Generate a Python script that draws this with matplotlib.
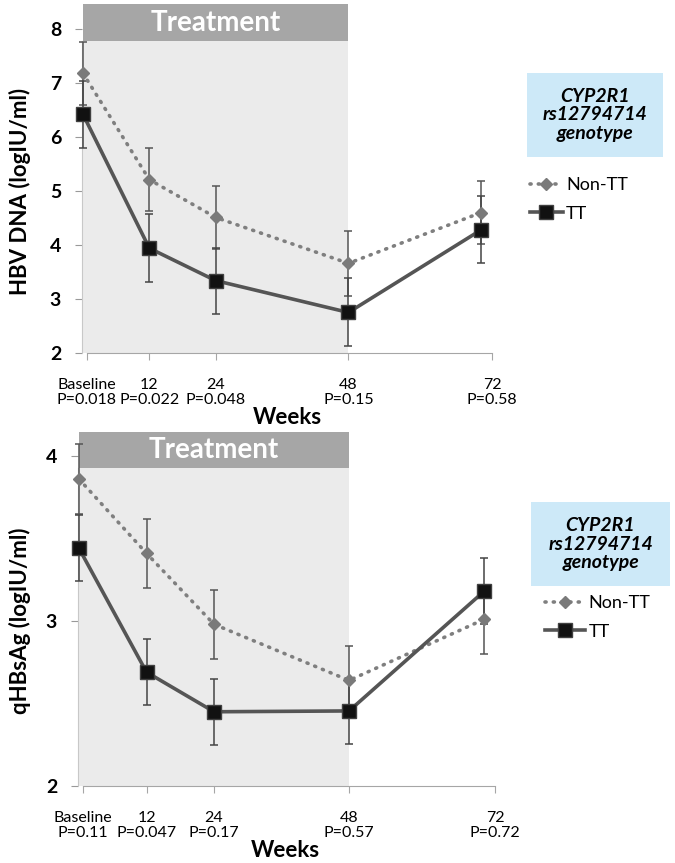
import matplotlib
matplotlib.use("Agg")
import matplotlib.pyplot as plt
from matplotlib.patches import Rectangle

plt.rcParams['font.family'] = ['Lato', 'DejaVu Sans']

# データ
weeks = [0, 12, 24, 48, 72]
week_names = ['Baseline', '12', '24', '48', '72']

dna_p = ['P=0.018', 'P=0.022', 'P=0.048', 'P=0.15', 'P=0.58']
dna_nontt = [7.18, 5.21, 4.51, 3.66, 4.60]
dna_nontt_err = [0.58, 0.59, 0.58, 0.60, 0.58]
dna_tt = [6.42, 3.94, 3.34, 2.75, 4.28]
dna_tt_err = [0.62, 0.63, 0.61, 0.63, 0.62]

hbs_p = ['P=0.11', 'P=0.047', 'P=0.17', 'P=0.57', 'P=0.72']
hbs_nontt = [3.86, 3.41, 2.98, 2.64, 3.01]
hbs_nontt_err = [0.21, 0.21, 0.21, 0.21, 0.21]
hbs_tt = [3.44, 2.69, 2.45, 2.455, 3.18]
hbs_tt_err = [0.20, 0.20, 0.20, 0.20, 0.20]

treat_end = 48
x_start = 0.7
x_end = 74


def draw_panel(ax, nontt, nontt_err, tt, tt_err, pvals, yticks, ylim, head_lo, head_hi):
	# 治療期間の背景
	ax.add_patch(Rectangle((0, ylim[0]), treat_end, head_lo - ylim[0], color='#ebebeb', zorder=0, lw=0))
	ax.add_patch(Rectangle((0, head_lo), treat_end, head_hi - head_lo, color='#a6a6a6', zorder=1, lw=0, clip_on=False))
	ax.text(treat_end / 2, (head_lo + head_hi) / 2, 'Treatment', color='white', fontsize=20,
		fontweight='bold', ha='center', va='center', zorder=2)

	# エラーバー
	ax.errorbar(weeks, nontt, yerr=nontt_err, fmt='none', ecolor='#555555', elinewidth=1.1,
		capsize=3, capthick=1.1, zorder=3, clip_on=False)
	ax.errorbar(weeks, tt, yerr=tt_err, fmt='none', ecolor='#444444', elinewidth=1.1,
		capsize=3, capthick=1.1, zorder=3, clip_on=False)

	l1, = ax.plot(weeks, nontt, color='#7f7f7f', lw=2.6, linestyle=(0, (0.3, 2.0)),
		dash_capstyle='round', marker='D', ms=6.5, mfc='#7a7a7a', mec='#7a7a7a',
		zorder=4, clip_on=False, label='Non-TT')
	l2, = ax.plot(weeks, tt, color='#555555', lw=2.6, marker='s', ms=9.5,
		mfc='#111111', mec='#404040', zorder=5, clip_on=False, label='TT')

	ax.set_xlim(-0.2, x_end)
	ax.set_ylim(ylim)

	# 軸の設定
	ax.spines['top'].set_visible(False)
	ax.spines['right'].set_visible(False)
	ax.spines['left'].set_color('#c8c8c8')
	ax.spines['bottom'].set_color('#a6a6a6')
	ax.spines['bottom'].set_bounds(x_start, x_end)
	ax.spines['left'].set_bounds(ylim[0], head_lo)

	ax.set_yticks(yticks)
	ax.set_yticklabels([str(v) for v in yticks], fontsize=14, fontweight='bold')
	ax.tick_params(axis='y', direction='out', length=5, color='#999999', pad=10)

	ax.set_xticks([x_start, 12, 24, 48, x_end])
	ax.set_xticklabels([n + '\n' + p for n, p in zip(week_names, pvals)], fontsize=11.5,
		linespacing=1.1)
	ax.tick_params(axis='x', direction='out', length=5, color='#a6a6a6', pad=13)

	return l1, l2


fig = plt.figure(figsize=(6.75, 8.63), dpi=100)

ax1 = fig.add_axes([0.1213, 0.5910, 0.6079, 0.4067])
ax2 = fig.add_axes([0.1154, 0.0892, 0.6184, 0.4130])

h1 = draw_panel(ax1, dna_nontt, dna_nontt_err, dna_tt, dna_tt_err, dna_p,
	[2, 3, 4, 5, 6, 7, 8], (2, 8.5), 7.78, 8.46)
h2 = draw_panel(ax2, hbs_nontt, hbs_nontt_err, hbs_tt, hbs_tt_err, hbs_p,
	[2, 3, 4], (2, 4.16), 3.93, 4.145)

# 軸ラベル
fig.text(20 / 675, 1 - 191 / 863, 'HBV DNA (logIU/ml)', rotation=90, fontsize=16,
	fontweight='bold', ha='center', va='center')
fig.text(20 / 675, 1 - 621 / 863, 'qHBsAg (logIU/ml)', rotation=90, fontsize=16,
	fontweight='bold', ha='center', va='center')
fig.text(287 / 675, 1 - 417 / 863, 'Weeks', fontsize=16, fontweight='bold', ha='center', va='center')
fig.text(285 / 675, 1 - 850 / 863, 'Weeks', fontsize=16, fontweight='bold', ha='center', va='center')

# 凡例の箱
for (bx, by, bw, bh) in [(527, 73, 136, 84), (531, 502, 139, 84)]:
	fig.patches.append(Rectangle((bx / 675, 1 - (by + bh) / 863), bw / 675, bh / 863,
		transform=fig.transFigure, color='#cde9f8', lw=0))
	fig.text((bx + bw / 2) / 675, 1 - (by + bh / 2) / 863, 'CYP2R1\nrs12794714\ngenotype',
		fontsize=14, fontweight='bold', style='italic', ha='center', va='center', linespacing=1.1)

# 凡例
ax1.legend(handles=h1, loc='upper left', bbox_to_anchor=(530 / 675, 1 - 177 / 863),
	bbox_transform=fig.transFigure, frameon=False, fontsize=13, handlelength=1.8,
	handletextpad=0.2, labelspacing=0.7, borderpad=0, borderaxespad=0)
ax2.legend(handles=h2, loc='upper left', bbox_to_anchor=(545 / 675, 1 - 595 / 863),
	bbox_transform=fig.transFigure, frameon=False, fontsize=13, handlelength=2.2,
	handletextpad=0.2, labelspacing=0.7, borderpad=0, borderaxespad=0)

fig.savefig('out.png', dpi=100)
